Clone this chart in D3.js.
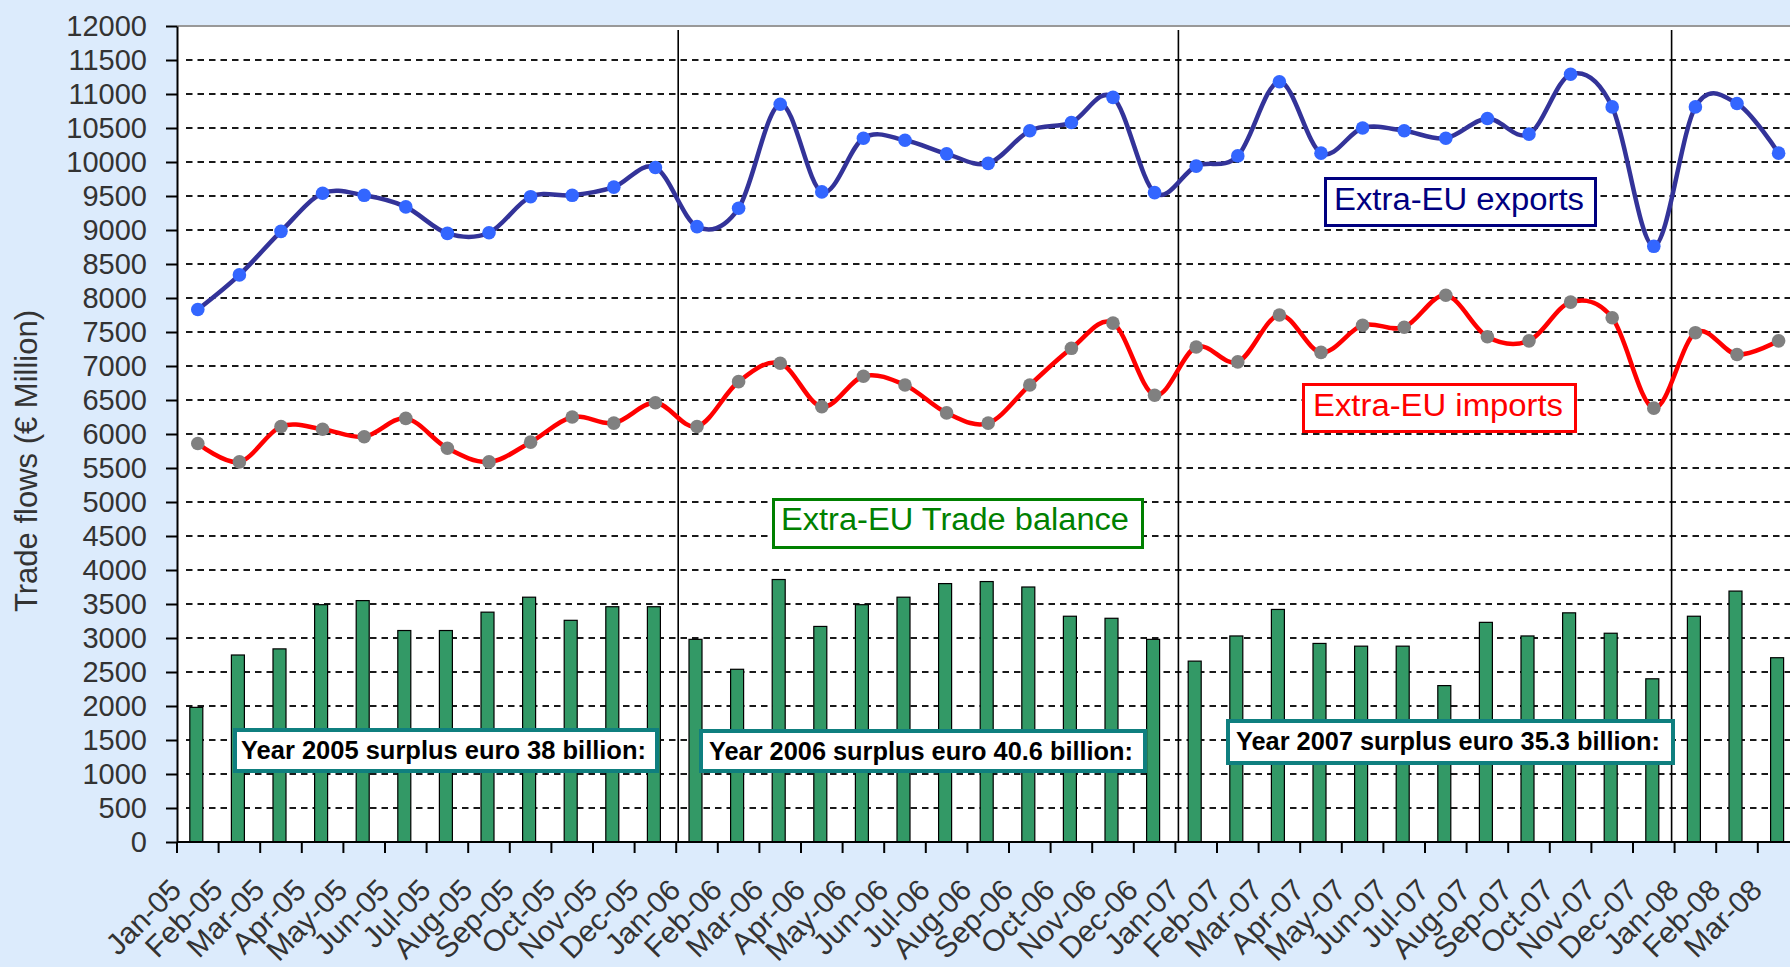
<!DOCTYPE html>
<html>
<head>
<meta charset="utf-8">
<script src="https://cdn.jsdelivr.net/npm/d3@7"></script>
<style>
  html, body { margin: 0; padding: 0; background: #dcebfc; }
  svg { display: block; font-family: Arial, 'Liberation Sans', sans-serif; }
</style>
</head>
<body>
<svg id="chart"></svg>
<script>
// data (EUR million)
const months = [
  "Jan-05","Feb-05","Mar-05","Apr-05","May-05","Jun-05","Jul-05","Aug-05","Sep-05","Oct-05","Nov-05","Dec-05",
  "Jan-06","Feb-06","Mar-06","Apr-06","May-06","Jun-06","Jul-06","Aug-06","Sep-06","Oct-06","Nov-06","Dec-06",
  "Jan-07","Feb-07","Mar-07","Apr-07","May-07","Jun-07","Jul-07","Aug-07","Sep-07","Oct-07","Nov-07","Dec-07",
  "Jan-08","Feb-08","Mar-08"
]
const exportsVals = [
  7830, 8340, 8980, 9540, 9510, 9340, 8950, 8960, 9490, 9510, 9630, 9920,
  9050, 9320, 10850, 9560, 10350, 10320, 10120, 9980, 10460, 10580, 10950, 9550,
  9940, 10090, 11180, 10130, 10500, 10460, 10350, 10640, 10410, 11290, 10810, 8760,
  10810, 10860, 10130
]
const importsVals = [
  5860, 5590, 6110, 6070, 5960, 6230, 5790, 5590, 5880, 6250, 6160, 6460,
  6110, 6770, 7040, 6400, 6850, 6720, 6310, 6160, 6720, 7260, 7630, 6570,
  7280, 7060, 7750, 7200, 7600, 7570, 8040, 7430, 7370, 7940, 7710, 6380,
  7490, 7170, 7370
]
const balanceVals = [
  1980, 2750, 2840, 3490, 3550, 3110, 3110, 3380, 3600, 3260, 3460, 3460,
  2980, 2540, 3860, 3170, 3490, 3600, 3800, 3830, 3750, 3320, 3290, 2980,
  2660, 3030, 3420, 2920, 2880, 2880, 2300, 3230, 3030, 3370, 3070, 2400,
  3320, 3690, 2710
]
const yearStarts = ["Jan-06", "Jan-07", "Jan-08"]
const seriesLabels = ["Extra-EU exports", "Extra-EU imports", "Extra-EU Trade balance"]
const yearLabels = [
  "Year 2005 surplus euro 38 billion:",
  "Year 2006 surplus euro 40.6 billion:",
  "Year 2007 surplus euro 35.3 billion:"
]
const yTitle = "Trade flows (\u20ac Million)"

// layout
const width = 1790, height = 967
const plot = { left: 177, top: 26, bottom: 842 }
const step = 41.6
const sepNudge = [2, 3, -3]

const svg = d3.select('svg#chart').attr('width', width).attr('height', height)

const x = d3.scaleBand().domain(months)
  .range([plot.left, plot.left + months.length * step]).padding(0)
const y = d3.scaleLinear().domain([0, 12000]).range([plot.bottom, plot.top])
const cx = m => x(m) + x.bandwidth() / 2

// plot area
svg.append('rect').attr('x', plot.left).attr('y', plot.top)
  .attr('width', width - plot.left).attr('height', plot.bottom - plot.top)
  .attr('fill', '#fff')

// dashed gridlines
svg.append('g').selectAll('line')
  .data(d3.range(500, 12000, 500))
  .enter().append('line')
  .attr('x1', plot.left + 4).attr('x2', width)
  .attr('y1', d => y(d)).attr('y2', d => y(d))
  .attr('stroke', '#1a1a1a').attr('stroke-width', 2)
  .attr('stroke-dasharray', '6.5 5').attr('stroke-dashoffset', 6.5)

// top border of plot area
svg.append('line').attr('x1', plot.left).attr('x2', width)
  .attr('y1', y(12000)).attr('y2', y(12000))
  .attr('stroke', '#999').attr('stroke-width', 2)

// trade balance bars
svg.append('g').selectAll('rect')
  .data(months.map((m, i) => ({ m, v: balanceVals[i] })))
  .enter().append('rect')
  .attr('x', d => cx(d.m) - 1.5 - 6.5)
  .attr('width', 13)
  .attr('y', d => y(d.v))
  .attr('height', d => y(0) - y(d.v))
  .attr('fill', '#339966').attr('stroke', '#000').attr('stroke-width', 1.2)

// year separators
svg.append('g').selectAll('line')
  .data(yearStarts)
  .enter().append('line')
  .attr('x1', (d, i) => x(d) + sepNudge[i]).attr('x2', (d, i) => x(d) + sepNudge[i])
  .attr('y1', plot.top + 4).attr('y2', plot.bottom)
  .attr('stroke', '#000').attr('stroke-width', 1.6)

// smoothed lines with markers
const line = d3.line().x(d => cx(d.m)).y(d => y(d.v)).curve(d3.curveCardinal.tension(0))

function drawSeries(vals, lineColor, markColor) {
  const pts = months.map((m, i) => ({ m, v: vals[i] }))
  svg.append('path').datum(pts).attr('d', line)
    .attr('fill', 'none').attr('stroke', lineColor).attr('stroke-width', 4.5)
  svg.append('g').selectAll('circle').data(pts)
    .enter().append('circle')
    .attr('cx', d => cx(d.m)).attr('cy', d => y(d.v)).attr('r', 6.8)
    .attr('fill', markColor)
}
drawSeries(exportsVals, '#333399', '#3366ff')
drawSeries(importsVals, '#ff0000', '#808080')

// y axis
const yAxis = d3.axisLeft(y).tickValues(d3.range(0, 12001, 500))
  .tickFormat(d3.format('d'))
  .tickSize(11).tickSizeOuter(0).tickPadding(19)
const gy = svg.append('g').attr('transform', 'translate(' + plot.left + ',0)').call(yAxis)
gy.select('.domain').attr('stroke', '#000').attr('stroke-width', 2)
gy.selectAll('.tick line').attr('stroke', '#000').attr('stroke-width', 2)
gy.selectAll('.tick text').attr('fill', '#333').attr('font-size', 29)
  .attr('font-family', "Arial, 'Liberation Sans', sans-serif")

// x axis
svg.append('line').attr('x1', plot.left).attr('x2', width)
  .attr('y1', plot.bottom).attr('y2', plot.bottom)
  .attr('stroke', '#000').attr('stroke-width', 2)
svg.append('g').selectAll('line')
  .data(months)
  .enter().append('line')
  .attr('x1', d => x(d)).attr('x2', d => x(d))
  .attr('y1', plot.bottom).attr('y2', plot.bottom + 11)
  .attr('stroke', '#000').attr('stroke-width', 2)
svg.append('g').selectAll('text')
  .data(months)
  .enter().append('text')
  .attr('transform', d => 'translate(' + (x(d) + 6) + ',' + 892 + ') rotate(-45)')
  .attr('text-anchor', 'end')
  .attr('font-size', 30).attr('fill', '#333')
  .text(d => d)

// y title
svg.append('text')
  .attr('transform', 'translate(37,461) rotate(-90)')
  .attr('text-anchor', 'middle').attr('font-size', 31).attr('fill', '#333')
  .text(yTitle)

// annotation boxes
function box(label, b) {
  const sw = b.sw
  svg.append('rect')
    .attr('x', b.x0 + sw / 2).attr('y', b.y0 + sw / 2)
    .attr('width', b.x1 - b.x0 - sw).attr('height', b.y1 - b.y0 - sw)
    .attr('fill', '#fff').attr('stroke', b.stroke).attr('stroke-width', sw)
  svg.append('text')
    .attr('x', b.tx).attr('y', b.ty)
    .attr('textLength', b.tw).attr('lengthAdjust', 'spacingAndGlyphs')
    .attr('font-size', b.fs).attr('fill', b.color)
    .attr('font-weight', b.bold ? 'bold' : 'normal')
    .attr('font-family', b.bold ? "'Liberation Sans Narrow', 'Arial Narrow', Arial, 'Liberation Sans', sans-serif" : null)
    .text(label)
}
box(seriesLabels[0], { x0: 1324, y0: 177, x1: 1597, y1: 227, sw: 3, stroke: '#000080', color: '#000080', tx: 1334, ty: 210, tw: 250, fs: 31 })
box(seriesLabels[1], { x0: 1302, y0: 383, x1: 1577, y1: 433, sw: 3, stroke: '#ff0000', color: '#ff0000', tx: 1313, ty: 416, tw: 250, fs: 31 })
box(seriesLabels[2], { x0: 772, y0: 498, x1: 1144, y1: 549, sw: 3, stroke: '#008000', color: '#008000', tx: 781, ty: 530, tw: 348, fs: 31 })
box(yearLabels[0], { x0: 233, y0: 728, x1: 659, y1: 773, sw: 4, stroke: '#0f7f7f', color: '#000', tx: 241, ty: 759, tw: 405, fs: 25, bold: true })
box(yearLabels[1], { x0: 699, y0: 729, x1: 1147, y1: 773, sw: 4, stroke: '#0f7f7f', color: '#000', tx: 709, ty: 760, tw: 424, fs: 25, bold: true })
box(yearLabels[2], { x0: 1226, y0: 719, x1: 1675, y1: 765, sw: 4, stroke: '#0f7f7f', color: '#000', tx: 1236, ty: 749.5, tw: 424, fs: 25, bold: true })
</script>
</body>
</html>
